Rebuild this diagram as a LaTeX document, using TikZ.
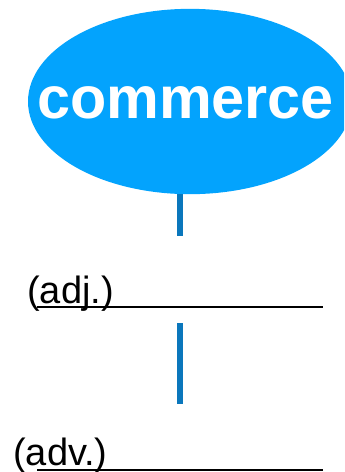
\documentclass[tikz,border=0pt]{standalone}
\usepackage{fontspec}
\setmainfont{Liberation Sans}
\usetikzlibrary{shapes.geometric,positioning}
\definecolor{bubbleblue}{HTML}{03A3FD}
\definecolor{stemblue}{HTML}{0A77BC}
\tikzset{
  stem/.style={draw=stemblue, line width=4.5pt},
  blank/.style={draw=black, line width=2pt},
  word/.style={inner sep=0pt, font=\fontsize{28.5}{32}\selectfont}
}

\begin{document}
\begin{tikzpicture}[x=0.75pt,y=-0.75pt]
  \useasboundingbox (0,0) rectangle (344,472);
  \clip (0,0) rectangle (344,472);

  %Draw root word bubble
  \node[ellipse, fill=bubbleblue, minimum width=243pt, minimum height=139pt, inner sep=0pt] (commerce) at (190,101.5) {};
  \node[text=white, inner sep=0pt, font=\fontsize{44.5}{48}\selectfont\bfseries,
        anchor=base] (root) at (185.5,118) {commerce};

  %Draw stems
  \coordinate (s1) at (180,236);
  \coordinate (s2) at (180,323);
  \coordinate (s3) at (180,404);
  \draw[stem] (commerce.south -| s1) -- (s1);
  \draw[stem] (s2) -- (s3);

  %Draw adjective blank
  \node[word, anchor=base west] (adj) at (27,303) {(adj.)};
  \coordinate (a1) at (37,307);
  \coordinate (a2) at (323,307);
  \draw[blank] (a1) -- (a2);

  %Draw adverb blank
  \node[word, anchor=base west] (adv) at (13,465) {(adv.)};
  \coordinate (b1) at (37,470);
  \coordinate (b2) at (323,470);
  \draw[blank] (b1) -- (b2);
\end{tikzpicture}
\end{document}
